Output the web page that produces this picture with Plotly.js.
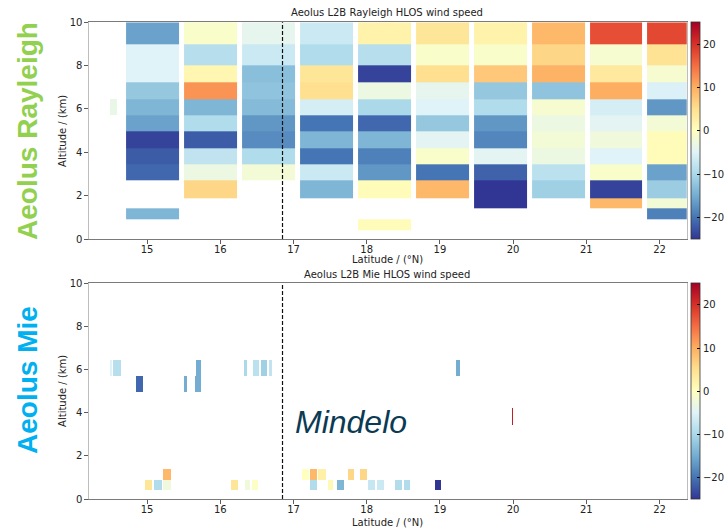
<!DOCTYPE html>
<html><head><meta charset="utf-8">
<script src="https://cdn.plot.ly/plotly-3.0.1.min.js"></script>
<style>html,body{margin:0;padding:0;background:#fff}</style>
</head><body>
<div id="chart" style="width:727px;height:530px"></div>
<script>
// ---------- data ----------
const latTicks = [15, 16, 17, 18, 19, 20, 21, 22];
const altTicks = [0, 2, 4, 6, 8, 10];
const windTicks = [-20, -10, 0, 10, 20];
const mindeloLat = 16.85;

// Rayleigh: column centre latitudes and altitude bin edges (top -> bottom, km)
const rayleighLat = [15.08, 15.87, 16.66, 17.46, 18.245, 19.04, 19.83, 20.625, 21.415, 22.2];
const rayleighAltEdges = [10.0, 9.0, 8.0, 7.25, 6.45, 5.7, 4.95, 4.2, 3.45, 2.7, 1.9, 1.4, 0.9, 0.4];
// HLOS wind (m/s) per column, bins top -> bottom
const rayleighWind = [
  [-16, -5, -5, -12, -14, -16, -24, -22, -21, null, null, -14, null],
  [-1, -9, 1.5, 12, -14, -9.5, -22, -8, -3, 6, null, null, null],
  [-4, -7, -13, -12.5, -13.5, -17, -18, -9.5, -2, null, null, null, null],
  [-7, -9.5, 4, 5, -6, -20, -14, -20, -7, -14, null, null, null],
  [2, -9, -24, -3, -10, -21, -14, -19, -17, 0.5, null, null, 0.5],
  [4, -1, 5, -4, -5, -12, -4.5, -1, -20, 9, null, null, null],
  [2, -1, 7.5, -12, -9.5, -17, -18.5, -4.5, -21.5, -25, -25, null, null],
  [9, 6, 9.5, -12.5, -1.5, -3, -2, -3, -8.5, -11, null, null, null],
  [17.5, -1.5, 3.5, 10, -6, -4.5, -2.5, -5, -1, -24, 9, null, null],
  [18, 4.5, -1.5, -5.5, -17, -2, 0.5, 0.5, -16, -11.5, -2, -19, null]
];
// isolated small Rayleigh cell
const rayleighExtraLat0 = [14.50];
const rayleighExtraLat1 = [14.59];
const rayleighExtraAlt0 = [5.72];
const rayleighExtraAlt1 = [6.47];
const rayleighExtraWind = [-3.5];

// Mie cells: latitude start/end, altitude bottom/top (km), wind (m/s)
const mieLat0 = [14.49, 14.54, 15.67, 16.32, 16.45, 16.55, 16.67, 19.22,
                 14.85, 15.51, 15.66,
                 19.98,
                 15.22, 17.12, 17.22, 17.34, 17.74, 17.91,
                 14.97, 15.10, 15.22, 16.14, 16.34, 16.44, 17.22, 17.47, 17.59, 18.02, 18.14, 18.39, 18.51, 18.93];
const mieLat1 = [14.52, 14.65, 15.73, 16.37, 16.53, 16.64, 16.70, 19.28,
                 14.95, 15.54, 15.74,
                 20.00,
                 15.32, 17.21, 17.32, 17.45, 17.82, 18.00,
                 15.07, 15.20, 15.32, 16.24, 16.41, 16.51, 17.32, 17.54, 17.69, 18.11, 18.24, 18.48, 18.59, 19.02];
const mieAlt0 = [5.7, 5.7, 5.7, 5.7, 5.7, 5.7, 5.7, 5.7,
                 4.95, 4.95, 4.95,
                 3.45,
                 0.9, 0.9, 0.9, 0.9, 0.9, 0.9,
                 0.4, 0.4, 0.4, 0.4, 0.4, 0.4, 0.4, 0.4, 0.4, 0.4, 0.4, 0.4, 0.4, 0.4];
const mieAlt1 = [6.45, 6.45, 6.45, 6.45, 6.45, 6.45, 6.45, 6.45,
                 5.7, 5.7, 5.7,
                 4.2,
                 1.4, 1.4, 1.4, 1.4, 1.4, 1.4,
                 0.9, 0.9, 0.9, 0.9, 0.9, 0.9, 0.9, 0.9, 0.9, 0.9, 0.9, 0.9, 0.9, 0.9];
const mieWind = [-5, -9, -15, -10, -8.5, -11, -8, -15,
                 -21, -15, -15,
                 22,
                 9, 0, 9, 2.5, 6, 6,
                 4, -9.5, -2.5, 4, -2.5, -0.5, -9.5, 1, -14, -7.5, -7, -9.5, -9.5, -25];

// ---------- build ----------
const rdylbuR = [
  [0.0, '#313695'], [0.1, '#4575b4'], [0.2, '#74add1'], [0.3, '#abd9e9'], [0.4, '#e0f3f8'],
  [0.5, '#ffffbf'], [0.6, '#fee090'], [0.7, '#fdae61'], [0.8, '#f46d43'], [0.9, '#d73027'], [1.0, '#a50026']
];

const nRows = rayleighAltEdges.length - 1;
const yEdges = rayleighAltEdges.slice().reverse();
const zR = [];
for (let r = 0; r < nRows; r++) {
  const row = [];
  for (let c = 0; c < rayleighLat.length; c++) row.push(rayleighWind[c][nRows - 1 - r]);
  zR.push(row);
}

function barsFrom(l0, l1, a0, a1, w, xa, ya, ca) {
  return {
    type: 'bar', xaxis: xa, yaxis: ya,
    x: l0.map((v, i) => (v + l1[i]) / 2),
    width: l0.map((v, i) => l1[i] - v),
    base: a0,
    y: a0.map((v, i) => a1[i] - v),
    marker: {color: w, coloraxis: ca, line: {width: 0}},
    hoverinfo: 'skip', showlegend: false
  };
}

const traces = [
  {type: 'heatmap', x: rayleighLat, y: yEdges, z: zR, coloraxis: 'coloraxis',
   xgap: 5, ygap: 0, zsmooth: false, hoverongaps: false, xaxis: 'x', yaxis: 'y'},
  barsFrom(rayleighExtraLat0, rayleighExtraLat1, rayleighExtraAlt0, rayleighExtraAlt1, rayleighExtraWind, 'x', 'y', 'coloraxis'),
  barsFrom(mieLat0, mieLat1, mieAlt0, mieAlt1, mieWind, 'x2', 'y2', 'coloraxis2')
];

const W = 727, H = 530;
const px = v => v / W, py = v => 1 - v / H;
const tickFont = {family: 'DejaVu Sans', size: 10, color: '#222'};

function xAx(anchor) {
  return {domain: [px(89), px(687.7)], range: [14.205, 22.372], anchor: anchor,
    tickvals: latTicks, ticks: 'outside', ticklen: 3.5, tickwidth: 0.8, tickcolor: '#333',
    ticklabelstandoff: -3,
    showline: true, mirror: true, linecolor: '#7a7a7a', linewidth: 1,
    showgrid: false, zeroline: false, tickfont: tickFont};
}
function yAx(anchor, top, bot) {
  return {domain: [py(bot), py(top)], range: [0, 10], anchor: anchor,
    tickvals: altTicks, ticks: 'outside', ticklen: 3.5, tickwidth: 0.8, tickcolor: '#333',
    showline: true, mirror: true, linecolor: '#bdbdbd', linewidth: 1,
    showgrid: false, zeroline: false, tickfont: tickFont};
}
function cbar(top, bot) {
  return {x: px(691), xanchor: 'left', y: py(top), yanchor: 'top',
    len: (bot - top) / H, lenmode: 'fraction', thickness: 9, thicknessmode: 'pixels',
    xpad: 0, ypad: 0, outlinewidth: 0.8, outlinecolor: '#333',
    tickvals: windTicks, ticks: 'inside', ticklen: 3, tickcolor: '#000',
    tickfont: tickFont};
}

const dash = {color: '#111', width: 1.2, dash: '4px,2px'};
const txt = (t, x, y, extra) => Object.assign({text: t, x: px(x), y: py(y), xref: 'paper', yref: 'paper',
  showarrow: false, xanchor: 'center', yanchor: 'middle', font: {family: 'DejaVu Sans', size: 10, color: '#222'}}, extra || {});

const layout = {
  width: W, height: H, autosize: false,
  margin: {l: 0, r: 0, t: 0, b: 0},
  paper_bgcolor: '#fff', plot_bgcolor: '#fff',
  barmode: 'overlay', bargap: 0,
  showlegend: false,
  xaxis: xAx('y'), yaxis: yAx('x', 22.3, 239),
  xaxis2: xAx('y2'), yaxis2: yAx('x2', 283.3, 499),
  coloraxis: {cmin: -25, cmax: 25, colorscale: rdylbuR, colorbar: cbar(22.3, 239)},
  coloraxis2: {cmin: -25, cmax: 25, colorscale: rdylbuR, colorbar: cbar(283.3, 499)},
  shapes: [
    {type: 'line', xref: 'x', yref: 'y domain', x0: mindeloLat, x1: mindeloLat, y0: 0, y1: 1, line: dash},
    {type: 'line', xref: 'x2', yref: 'y2 domain', x0: mindeloLat, x1: mindeloLat, y0: 0, y1: 1, line: dash}
  ],
  annotations: [
    txt('Aeolus L2B Rayleigh HLOS wind speed', 388, 13),
    txt('Aeolus L2B Mie HLOS wind speed', 388, 274),
    txt('Latitude / (°N)', 388, 259),
    txt('Latitude / (°N)', 388, 522),
    txt('Altitude / (km)', 62, 131, {textangle: -90}),
    txt('Altitude / (km)', 62, 391, {textangle: -90}),
    txt('<b>Aeolus Rayleigh</b>', 27, 131, {textangle: -90, font: {family: 'Liberation Sans', size: 28, color: '#92d050'}}),
    txt('<b>Aeolus Mie</b>', 27, 380, {textangle: -90, font: {family: 'Liberation Sans', size: 28, color: '#00b0f0'}}),
    txt('<i>Mindelo</i>', 293, 421.5, {xanchor: 'left', font: {family: 'Liberation Sans', size: 32, color: '#0b3a53'}})
  ]
};

Plotly.newPlot('chart', traces, layout, {staticPlot: true, displayModeBar: false});
</script>
</body></html>
